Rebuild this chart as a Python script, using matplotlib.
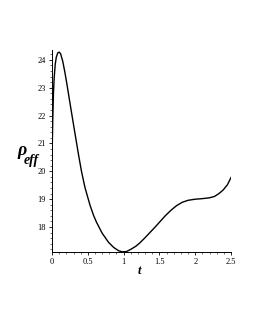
import matplotlib.pyplot as plt
from matplotlib.ticker import MultipleLocator

# values
t = [0.0, 0.01, 0.02, 0.03, 0.045, 0.06, 0.08, 0.10, 0.12, 0.15, 0.18, 0.21,
     0.24, 0.27, 0.30, 0.335, 0.37, 0.41, 0.46, 0.53, 0.58, 0.62, 0.70, 0.79,
     0.86, 0.93, 0.98, 1.04, 1.10, 1.17, 1.23, 1.30, 1.37, 1.44, 1.51, 1.58,
     1.66, 1.74, 1.82, 1.90, 2.00, 2.10, 2.20, 2.27, 2.33, 2.39, 2.45, 2.50]
rho = [20.4, 21.8, 22.8, 23.35, 23.85, 24.1, 24.25, 24.28, 24.22, 23.95, 23.55, 23.1,
       22.62, 22.15, 21.68, 21.14, 20.6, 20.02, 19.42, 18.79, 18.42, 18.18, 17.78, 17.45,
       17.27, 17.15, 17.11, 17.12, 17.2, 17.31, 17.44, 17.62, 17.81, 18.0, 18.2, 18.4,
       18.6, 18.77, 18.89, 18.96, 19.0, 19.02, 19.05, 19.1, 19.2, 19.33, 19.52, 19.78]
xticks = [0, 0.5, 1, 1.5, 2, 2.5]
xticklabels = ['0', '0.5', '1', '1.5', '2', '2.5']
yticks = [18, 19, 20, 21, 22, 23, 24]

plt.rcParams['font.family'] = ['Liberation Serif', 'DejaVu Serif']

fig = plt.figure(figsize=(2.55, 3.3), dpi=100)
ax = fig.add_axes([0.204, 0.236, 0.702, 0.612])
ax.plot(t, rho, color='black', lw=1.0)

ax.set_xlim(0, 2.5)
ax.set_ylim(17.1, 24.35)
ax.set_xticks(xticks)
ax.set_xticklabels(xticklabels)
ax.set_yticks(yticks)
ax.xaxis.set_minor_locator(MultipleLocator(0.1))
ax.yaxis.set_minor_locator(MultipleLocator(0.2))
ax.tick_params(which='major', length=2.5, width=0.6, labelsize=6, pad=2)
ax.tick_params(which='minor', length=1.2, width=0.4)
for s in ['top', 'right']:
    ax.spines[s].set_visible(False)
for s in ['left', 'bottom']:
    ax.spines[s].set_linewidth(0.7)

# y label: rho with subscript eff
fig.text(0.086, 0.545, 'ρ', fontsize=13, ha='center', va='center',
         fontweight='bold', style='italic')
fig.text(0.094, 0.515, 'eff', fontsize=10, ha='left', va='center',
         fontweight='bold', style='italic')
fig.text(0.548, 0.178, 't', fontsize=9, ha='center', va='center',
         fontweight='bold', style='italic')

fig.savefig('out.png', dpi=100)
